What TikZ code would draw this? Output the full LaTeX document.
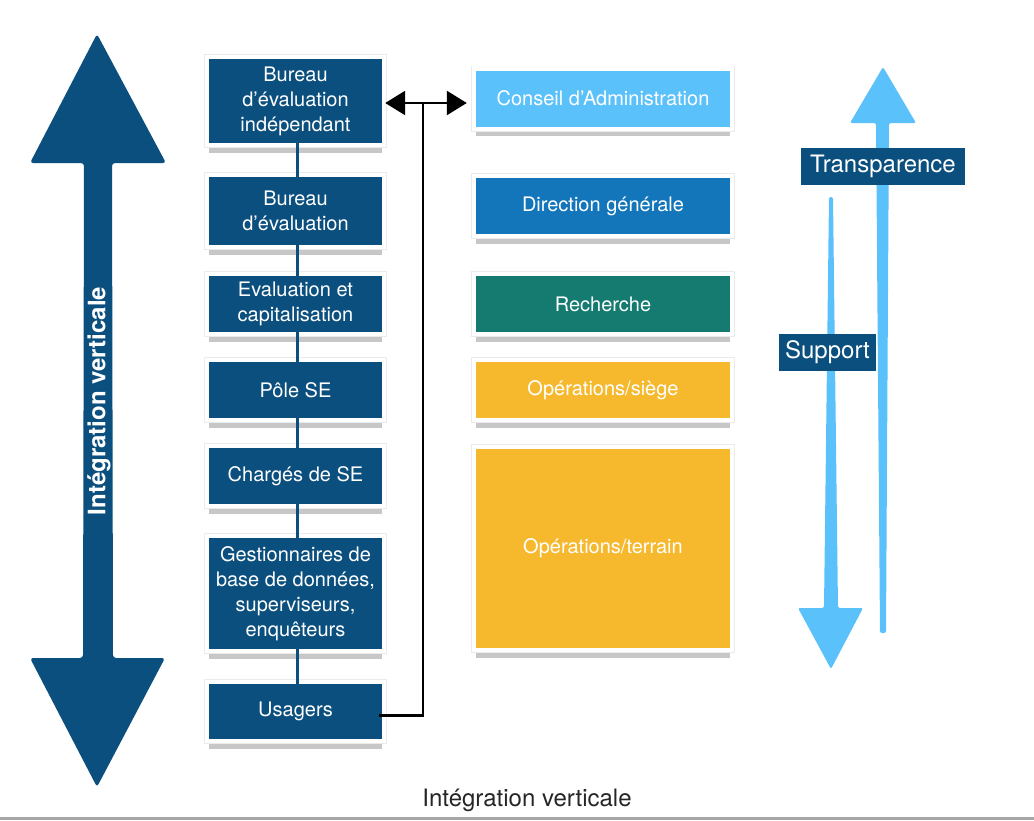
\documentclass[tikz,border=0pt]{standalone}
\usepackage{fontspec}
\setmainfont{TeX Gyre Heros}
\usepackage{xcolor}
\usetikzlibrary{arrows.meta,shadows}

\definecolor{navy}{HTML}{0B4F7E}
\definecolor{sky}{HTML}{5BC1FA}
\definecolor{midblue}{HTML}{1375BA}
\definecolor{teal2}{HTML}{157B70}
\definecolor{amber}{HTML}{F6B92E}

\begin{document}
\begin{tikzpicture}[x=1pt,y=-1pt,
            box/.style={shape=rectangle, inner sep=0pt, align=center, text=white,
                font=\fontsize{20}{25}\selectfont,
                drop shadow={shadow xshift=0pt, shadow yshift=-9.5pt, opacity=.4, fill=black!55},
                preaction={draw=black!8, line width=10pt},
                preaction={draw=white, line width=8.5pt}},
            lbox/.style={box, fill=navy, minimum width=173pt},
            rbox/.style={box, minimum width=254pt, minimum height=56pt},
            link/.style={draw=navy, line width=3.5pt},
            wire/.style={draw=black, line width=2.5pt},
            twoway/.style={{Triangle[width=24pt,length=20pt]}-{Triangle[width=24pt,length=20pt]}},
            tag/.style={fill=navy, text=white, inner sep=0pt, minimum height=37pt,
                font=\fontsize{24}{24}\selectfont}]
        \fill[white] (0,0) rectangle (1034,820);
        \useasboundingbox (0,0) rectangle (1034,820);

        % big arrow on the left
        \fill[navy, rounded corners=3pt] (84,163) -- (30,163) -- (97,34) -- (166,163) -- (112,163)
            -- (113,658) -- (165,658) -- (97,787) -- (30,658) -- (83,658) -- cycle;
        \node[rotate=90, text=white, font=\bfseries\fontsize{24}{24}\selectfont] (vert) at (99,401) {Intégration verticale};

        % chain of units
        \node[lbox, minimum height=84pt] (bur1) at (295.5,101) {Bureau\\d’évaluation\\indépendant};
        \node[lbox, minimum height=68pt] (bur2) at (295.5,211) {Bureau\\d’évaluation};
        \node[lbox, minimum height=56pt] (eval) at (295.5,304) {Evaluation et\\capitalisation};
        \node[lbox, minimum height=56pt] (pole) at (295.5,390) {Pôle SE};
        \node[lbox, minimum height=56pt] (charg) at (295.5,476) {Chargés de SE};
        \node[lbox, minimum height=111pt] (gest) at (295.5,593.5) {Gestionnaires de\\base de données,\\superviseurs,\\enquêteurs};
        \node[lbox, minimum height=55pt] (usag) at (295.5,711.5) {Usagers};

        \foreach \a/\b in {bur1/bur2, bur2/eval, eval/pole, pole/charg, charg/gest, gest/usag}
            \draw[link] ([xshift=2pt]\a.south) -- ([xshift=2pt]\b.north);

        % levels of the organisation
        \node[rbox, fill=sky] (conseil) at (603,98.5) {Conseil d’Administration};
        \node[rbox, fill=midblue] (direction) at (603,206) {Direction générale};
        \node[rbox, fill=teal2] (recherche) at (603,304) {Recherche};
        \node[rbox, fill=amber] (siege) at (603,390) {Opérations/siège};
        \node[rbox, fill=amber, minimum height=199pt] (terrain) at (603,548.5) {Opérations/terrain};

        % black connector
        \coordinate (fork) at (423,103);
        \draw[wire, twoway] ([xshift=3pt,yshift=-2pt]bur1.east) -- ([xshift=-9pt]fork -| conseil.west);
        \draw[wire] ([xshift=-3pt,yshift=-4pt]usag.east) -| (fork);

        % arrows on the right
        \fill[sky, rounded corners=2pt] (876,123) -- (850,123) -- (883,67) -- (916,123) -- (889,123)
            -- (886,633) -- (880,633) -- cycle;
        \fill[sky, rounded corners=2pt] (829,197) -- (833,197) -- (838,608) -- (863,608) -- (831,669)
            -- (798,608) -- (824,608) -- cycle;
        \node[tag, minimum width=164pt] (transp) at (883,166.5) {Transparence};
        \node[tag, minimum width=97pt] (supp) at (827.5,352.5) {Support};

        \node[anchor=base, text=black!85, font=\fontsize{24}{24}\selectfont] (caption) at (527,806) {Intégration verticale};
        \draw[draw=black!35, line width=3pt] (0,818.5) -- (1034,818.5);
    \end{tikzpicture}
\end{document}
